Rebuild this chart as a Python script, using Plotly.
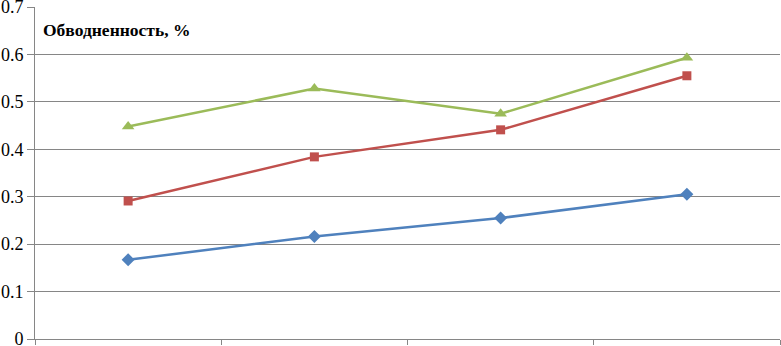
import plotly.graph_objects as go

categories = [1, 2, 3, 4]
series_blue = [0.167, 0.216, 0.255, 0.305]
series_red = [0.291, 0.384, 0.441, 0.555]
series_green = [0.448, 0.528, 0.475, 0.593]
y_ticks = [0, 0.1, 0.2, 0.3, 0.4, 0.5, 0.6, 0.7]
y_tick_labels = ["0", "0.1", "0.2", "0.3", "0.4", "0.5", "0.6", "0.7"]
title_text = "Обводненность, %"

FONT = "Liberation Serif, Times New Roman, serif"

fig = go.Figure()
fig.add_trace(go.Scatter(x=categories, y=series_blue, mode="lines+markers",
                         line=dict(color="#4F81BD", width=2.5),
                         marker=dict(symbol="diamond", size=10, color="#4F81BD")))
fig.add_trace(go.Scatter(x=categories, y=series_red, mode="lines+markers",
                         line=dict(color="#C0504D", width=2.5),
                         marker=dict(symbol="square", size=9, color="#C0504D")))
fig.add_trace(go.Scatter(x=categories, y=series_green, mode="lines+markers",
                         line=dict(color="#9BBB59", width=2.5),
                         marker=dict(symbol="triangle-up", size=11, color="#9BBB59")))

fig.update_layout(
    width=781, height=346,
    margin=dict(l=35, r=1, t=7, b=7, autoexpand=False),
    paper_bgcolor="white", plot_bgcolor="white",
    showlegend=False,
    font=dict(family=FONT, size=18, color="black"),
    xaxis=dict(range=[0.5, 4.5], tickmode="array", tickvals=[0.5, 1.5, 2.5, 3.5, 4.5],
               showticklabels=False, ticks="outside", ticklen=5, tickcolor="#868686",
               showgrid=False, zeroline=False, showline=True, linecolor="#868686", linewidth=1,
               automargin=False),
    yaxis=dict(range=[0, 0.7], tickmode="array", tickvals=y_ticks, ticktext=y_tick_labels,
               showgrid=True, gridcolor="#868686", gridwidth=1, zeroline=False,
               showline=True, linecolor="#868686", linewidth=1, ticks="outside", ticklen=7,
               tickcolor="#868686", ticklabeloverflow="allow", automargin=False,
               tickfont=dict(family=FONT, size=18)),
    annotations=[dict(text="<b>" + title_text + "</b>", xref="paper", yref="paper",
                      x=0.008, y=0.93, xanchor="left", yanchor="middle", showarrow=False,
                      font=dict(family=FONT, size=17.5, color="black"))],
)

fig.write_html("out.html", config={"displayModeBar": False},
               post_script="document.body.style.margin='0';document.body.style.overflow='hidden';")
